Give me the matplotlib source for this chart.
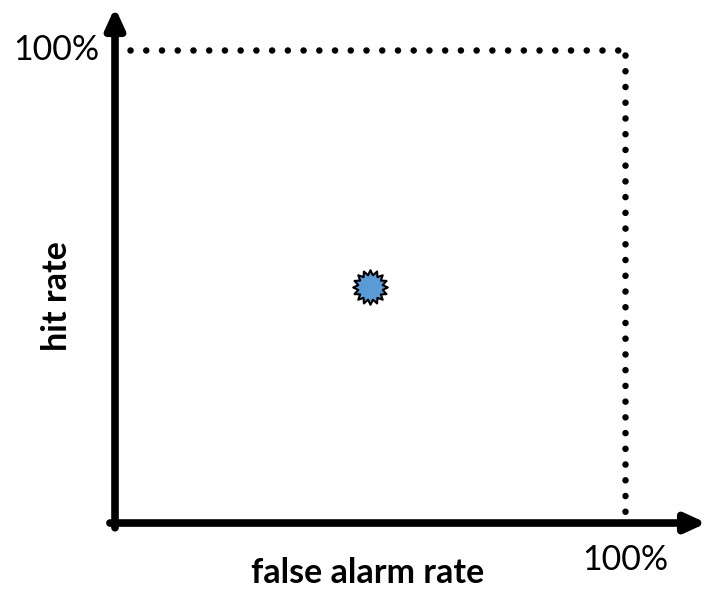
import matplotlib
matplotlib.use("Agg")
import matplotlib.pyplot as plt
import numpy as np
from matplotlib.path import Path

# data
point_x = [0.5]
point_y = [0.5]
limit = 1.0
x_label = "false alarm rate"
y_label = "hit rate"
limit_label = "100%"

plt.rcParams["font.family"] = ["Lato", "DejaVu Sans"]

fig = plt.figure(figsize=(7.07, 5.90), dpi=100)
ax = fig.add_axes([0, 0, 1, 1])
ax.set_xlim(-0.2255, 1.1608)
ax.set_ylim(-0.1416, 1.1057)
ax.axis("off")

# dotted 100% guides
dots = dict(color="black", linewidth=4.7, linestyle=(0, (0.01, 2.4)),
            dash_capstyle="round", solid_capstyle="round")
ax.plot([0.03, limit], [limit, limit], **dots)
ax.plot([limit, limit], [limit - 0.01, 0.0], **dots)

# axes with arrows
arrow = dict(arrowstyle="-|>,head_length=1.2,head_width=0.55", color="black",
             lw=5.5, shrinkA=0, shrinkB=0)
ax.annotate("", xy=(1.16, 0), xytext=(-0.01, 0), arrowprops=arrow)
ax.annotate("", xy=(0, 1.09), xytext=(0, -0.01), arrowprops=arrow)

# burst marker
n = 16
ang = np.linspace(0, 2 * np.pi, 2 * n, endpoint=False)
rad = np.where(np.arange(2 * n) % 2 == 0, 1.0, 0.72)
verts = np.column_stack([rad * np.cos(ang), rad * np.sin(ang)])
verts = np.vstack([verts, verts[:1]])
burst = Path(verts, closed=True)
ax.scatter(point_x, point_y, marker=burst, s=620, color="#5b9bd5",
           edgecolor="black", linewidth=1.5, zorder=5)

ax.text(-0.03, limit, limit_label, fontsize=24.5, ha="right", va="center")
ax.text(limit, -0.078, limit_label, fontsize=24.5, ha="center", va="center")
ax.text(0.495, -0.105, x_label, fontsize=24.5, fontweight="bold",
        ha="center", va="center")
ax.text(-0.113, 0.48, y_label, fontsize=24.5, fontweight="bold",
        ha="center", va="center", rotation=90)

fig.savefig("out.png", dpi=100)
